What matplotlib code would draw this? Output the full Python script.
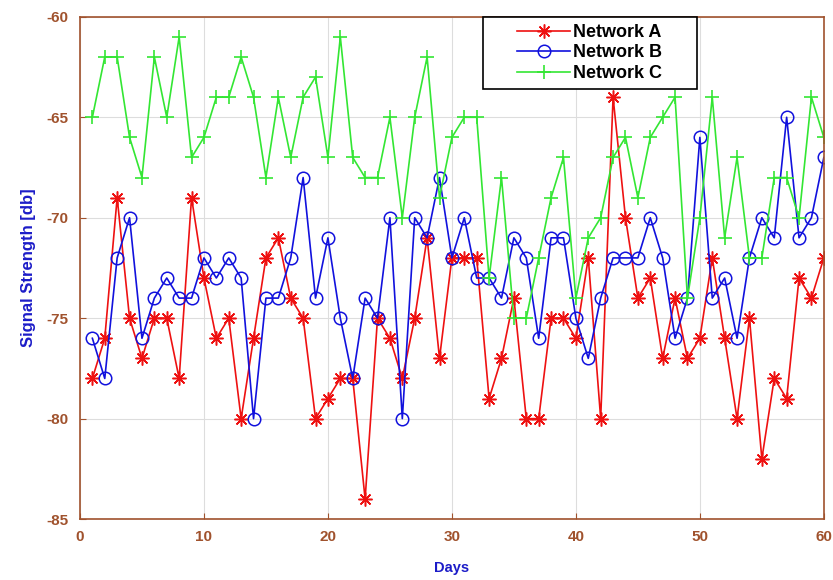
import matplotlib
matplotlib.use('Agg')
import matplotlib.pyplot as plt
from matplotlib.patches import Rectangle
import numpy as np

days = np.arange(1, 61)

network_a = [-78, -76, -69, -75, -77, -75, -75, -78, -69, -73,
             -76, -75, -80, -76, -72, -71, -74, -75, -80, -79,
             -78, -78, -84, -75, -76, -78, -75, -71, -77, -72,
             -72, -72, -79, -77, -74, -80, -80, -75, -75, -76,
             -72, -80, -64, -70, -74, -73, -77, -74, -77, -76,
             -72, -76, -80, -75, -82, -78, -79, -73, -74, -72]

network_b = [-76, -78, -72, -70, -76, -74, -73, -74, -74, -72,
             -73, -72, -73, -80, -74, -74, -72, -68, -74, -71,
             -75, -78, -74, -75, -70, -80, -70, -71, -68, -72,
             -70, -73, -73, -74, -71, -72, -76, -71, -71, -75,
             -77, -74, -72, -72, -72, -70, -72, -76, -74, -66,
             -74, -73, -76, -72, -70, -71, -65, -71, -70, -67]

network_c = [-65, -62, -62, -66, -68, -62, -65, -61, -67, -66,
             -64, -64, -62, -64, -68, -64, -67, -64, -63, -67,
             -61, -67, -68, -68, -65, -70, -65, -62, -69, -66,
             -65, -65, -73, -68, -75, -75, -72, -69, -67, -74,
             -71, -70, -67, -66, -69, -66, -65, -64, -74, -70,
             -64, -71, -67, -72, -72, -68, -68, -70, -64, -66]

brown = '#a0522d'
label_blue = '#1c1cc8'

plt.rcParams['font.family'] = ['Liberation Sans', 'DejaVu Sans']
plt.rcParams['axes.unicode_minus'] = False

fig = plt.figure(figsize=(8.33, 5.8), dpi=100)
ax = fig.add_axes([0.096, 0.105, 0.893, 0.866])

ax.plot(days, network_a, color='#ee1111', marker=(8, 2, 0), markersize=10,
        markeredgewidth=1.1, linewidth=1.2, label='Network A')
ax.plot(days, network_b, color='#1111dd', marker='o', markersize=9,
        markerfacecolor='none', markeredgewidth=1.1, linewidth=1.2, label='Network B')
ax.plot(days, network_c, color='#33e633', marker='+', markersize=10,
        markeredgewidth=1.2, linewidth=1.2, label='Network C')

ax.set_xlim(0, 60)
ax.set_ylim(-85, -60)
ax.set_xticks(range(0, 61, 10))
ax.set_yticks(range(-85, -59, 5))
ax.grid(True, color='#dddddd', linewidth=0.8)
ax.set_axisbelow(True)

for s in ax.spines.values():
    s.set_color(brown)
    s.set_linewidth(1.2)
ax.tick_params(direction='in', colors=brown, labelsize=11, length=4, pad=8)
for lbl in ax.get_xticklabels() + ax.get_yticklabels():
    lbl.set_fontweight('bold')

ax.set_xlabel('Days', color=label_blue, fontsize=10.5, fontweight='bold', labelpad=12)
ax.set_ylabel('Signal Strength [db]', color=label_blue, fontsize=12, fontweight='bold', labelpad=8)

# legend box drawn separately so the entries sit centred in a wider frame
box = Rectangle((0.542, 0.857), 0.287, 0.143, transform=ax.transAxes,
                facecolor='white', edgecolor='black', linewidth=1.2,
                zorder=5, clip_on=False)
ax.add_patch(box)
leg = ax.legend(loc='center', bbox_to_anchor=(0.6855, 0.928), frameon=False,
                prop={'weight': 'bold', 'size': 13}, labelspacing=0.2,
                handlelength=2.9, handletextpad=0.2, borderpad=0, borderaxespad=0)
leg.set_zorder(6)

fig.savefig('out.png', dpi=100)
